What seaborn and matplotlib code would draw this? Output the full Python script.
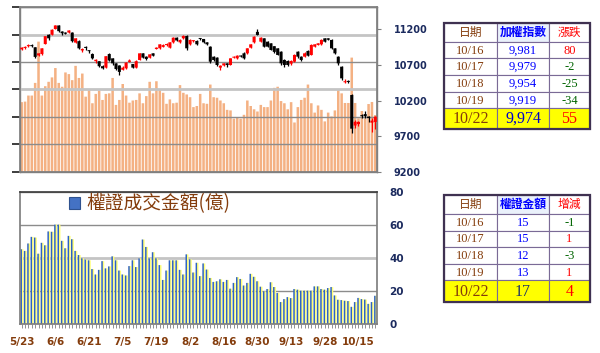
import numpy as np
import pandas as pd
import seaborn as sns
import matplotlib.pyplot as plt
from matplotlib.patches import Patch, Rectangle


# x axis labels (every 10 trading days)
tick_labels = ['5/23', '6/6', '6/21', '7/5', '7/19', '8/2', '8/16', '8/30', '9/13', '9/28', '10/15']

# TAIEX daily candles, 5/23 .. 10/22
idx_open = [10915, 10935, 10960, 10975, 10945, 10830, 10850, 10990, 11120, 11120,
            11200, 11250, 11165, 11150, 11150, 11150, 11010, 11030, 10900, 10950,
            10900, 10850, 10750, 10750, 10680, 10660, 10850, 10790, 10720, 10690,
            10630, 10650, 10740, 10710, 10660, 10767, 10860, 10813, 10799, 10860,
            10921, 10930, 10950, 10975, 10939, 11014, 11079, 11014, 11070, 11103,
            10986, 11030, 11033, 11070, 11061, 11014, 10953, 10813, 10800, 10660,
            10690, 10720, 10697, 10799, 10790, 10827, 10860, 10860, 10939, 11014,
            11160, 11023, 11070, 11023, 11000, 10960, 10930, 10883, 10767, 10753,
            10715, 10743, 10883, 10813, 10813, 10893, 10837, 10953, 10977, 10986,
            11070, 11070, 11047, 10930, 10813, 10673, 10455, 10470, 10277, 9850,
            9870, 9995, 10010, 9975, 9890, 9900]
idx_close = [10940, 10950, 10975, 10960, 10810, 10860, 10930, 11100, 11070, 11190,
             11250, 11170, 11140, 11135, 11180, 11030, 11070, 10930, 10920, 10935,
             10890, 10790, 10770, 10680, 10650, 10820, 10760, 10720, 10640, 10600,
             10660, 10730, 10760, 10660, 10750, 10860, 10800, 10781, 10846, 10827,
             10939, 10986, 10975, 10990, 11014, 11079, 11040, 11047, 11103, 10930,
             11047, 11040, 10986, 11061, 11014, 10986, 10743, 10767, 10697, 10687,
             10720, 10697, 10790, 10813, 10827, 10815, 10790, 10930, 10986, 11093,
             11117, 11079, 10953, 10953, 10907, 10880, 10837, 10720, 10697, 10697,
             10753, 10837, 10813, 10767, 10860, 10827, 10977, 10986, 11000, 11047,
             11023, 11050, 10930, 10860, 10720, 10510, 10470, 10460, 9806, 9902,
             9901, 9981, 9979, 9954, 9919, 9974]
idx_high = [10950, 10960, 10985, 10985, 10950, 10870, 10940, 11105, 11125, 11195,
            11262, 11255, 11170, 11160, 11190, 11155, 11080, 11040, 10930, 10965,
            10905, 10860, 10780, 10755, 10690, 10825, 10870, 10800, 10725, 10700,
            10680, 10740, 10775, 10715, 10760, 10870, 10865, 10820, 10855, 10870,
            10950, 10990, 10985, 10998, 11020, 11085, 11090, 11055, 11110, 11110,
            11055, 11050, 11040, 11080, 11065, 11020, 10960, 10820, 10805, 10695,
            10730, 10728, 10800, 10825, 10835, 10835, 10880, 10940, 10995, 11100,
            11200, 11085, 11080, 11030, 11010, 10965, 10940, 10890, 10775, 10760,
            10765, 10845, 10890, 10820, 10875, 10900, 10985, 10995, 11010, 11055,
            11080, 11078, 11055, 10940, 10820, 10680, 10500, 10480, 10290, 9930,
            9920, 10010, 10053, 9990, 9950, 9990]
idx_low = [10900, 10925, 10950, 10950, 10790, 10820, 10840, 10985, 11040, 11115,
           11195, 11165, 11120, 11130, 11145, 11020, 11000, 10925, 10880, 10910,
           10860, 10785, 10720, 10670, 10645, 10655, 10750, 10700, 10630, 10550,
           10625, 10645, 10735, 10650, 10655, 10760, 10795, 10760, 10790, 10820,
           10915, 10925, 10945, 10965, 10935, 11010, 11035, 11010, 11060, 10910,
           10980, 11020, 10980, 11050, 11005, 10975, 10720, 10750, 10680, 10630,
           10680, 10670, 10690, 10790, 10780, 10805, 10780, 10855, 10930, 11010,
           11110, 11015, 10945, 10945, 10900, 10870, 10830, 10700, 10670, 10680,
           10700, 10735, 10800, 10755, 10805, 10820, 10830, 10945, 10970, 10980,
           11015, 11040, 10920, 10850, 10700, 10490, 10440, 10440, 9740, 9820,
           9840, 9950, 9960, 9900, 9760, 9800]

# market turnover (orange bars, axis not labelled)
turnover = [1270, 1280, 1390, 1390, 1620, 2370, 1390, 1560, 1640, 1720,
            1890, 1620, 1550, 1810, 1780, 1670, 1930, 1710, 1790, 1370,
            1490, 1250, 1420, 1480, 1310, 1420, 1430, 1710, 1220, 1310,
            1600, 1390, 1260, 1300, 1310, 1430, 1250, 1380, 1640, 1430,
            1650, 1490, 1440, 1240, 1320, 1250, 1260, 1580, 1440, 1410,
            1360, 1180, 1200, 1420, 1250, 1240, 1590, 1360, 1350, 1300,
            1250, 1130, 1120, 970, 990, 970, 1040, 1300, 1200, 1140,
            1100, 1220, 1180, 1180, 1300, 1530, 1550, 1290, 1250, 1140,
            1270, 900, 1180, 1310, 1350, 1590, 1250, 1080, 1210, 1130,
            920, 1080, 1010, 1120, 1490, 1430, 1255, 1255, 2080, 1255,
            976, 1109, 976, 1236, 1273, 1036]

# warrant turnover (億)
warrant = [45.3, 44.3, 48.8, 52.8, 52.4, 42.6, 49.2, 47.7, 56.1, 55.9,
           60.2, 60.2, 50.4, 45.9, 53.4, 51.4, 44.3, 41.8, 39.8, 39.0,
           38.6, 33.3, 30.0, 32.8, 38.1, 33.7, 34.9, 41.0, 38.6, 32.4,
           30.0, 29.4, 35.1, 38.6, 34.5, 39.8, 51.2, 46.7, 39.8, 43.5,
           39.8, 35.7, 26.7, 32.4, 38.6, 38.6, 38.6, 32.8, 30.0, 42.2,
           39.2, 31.2, 37.1, 29.0, 36.7, 33.0, 27.9, 25.5, 25.9, 27.1,
           25.5, 26.7, 21.4, 24.9, 28.4, 27.3, 23.3, 24.9, 30.4, 28.6,
           25.9, 22.6, 19.8, 21.2, 25.3, 22.4, 18.8, 13.3, 15.1, 16.3,
           15.7, 21.2, 20.8, 20.2, 20.2, 20.2, 20.2, 22.8, 22.8, 21.2,
           20.8, 21.8, 22.4, 17.3, 14.7, 14.5, 14.1, 13.9, 10.4, 13.3,
           15.8, 15.1, 14.8, 12.2, 13.3, 17.1]

# side tables
tbl_dates = ['10/16', '10/17', '10/18', '10/19', '10/22']
tbl_index = ['9,981', '9,979', '9,954', '9,919', '9,974']
tbl_index_chg = [80, -2, -25, -34, 55]
tbl_warrant = ['15', '15', '12', '13', '17']
tbl_warrant_chg = [-1, 1, -3, 1, 4]


sns.set_theme(style='white')
plt.rcParams['font.family'] = ['DejaVu Sans', 'Noto Sans CJK TC']

BROWN = '#843C0C'
NAVY = '#1B2A5E'
GRID_DARK = '#8C8C8C'
GRID_LIGHT = '#C4C4C4'

df = pd.DataFrame({'day': np.arange(len(idx_close)), 'open': idx_open, 'close': idx_close,
                   'high': idx_high, 'low': idx_low, 'turnover': turnover, 'warrant': warrant})
n = len(df)

fig = plt.figure(figsize=(6, 3.53), dpi=100)

# ---------------- top panel: turnover bars + candles ----------------
ax_v = fig.add_axes([20 / 600, 1 - 172 / 353, 357 / 600, 165 / 353])
sns.barplot(data=df, x='day', y='turnover', native_scale=True, color='#F4B183',
            saturation=1, width=0.75, linewidth=0, errorbar=None, ax=ax_v)
for p in ax_v.patches:
    p.set_snap(False)
ax_v.set_xlim(-0.5, n - 0.5)
ax_v.set_ylim(0, 3000)
ax_v.set_yticks(np.arange(0, 3001, 500))
ax_v.set_yticklabels([])
ax_v.set_xlabel('')
ax_v.set_ylabel('')
ax_v.tick_params(left=False, bottom=False, labelbottom=False)
ax_v.grid(axis='y', color=GRID_DARK, lw=1)
ax_v.set_axisbelow(False)
for val, gl in zip(ax_v.get_yticks(), ax_v.get_ygridlines()):
    if val in (1500, 2500):
        gl.set_color(GRID_LIGHT)
        gl.set_linewidth(2)
for sp in ax_v.spines.values():
    sp.set_color('#808080')
    sp.set_linewidth(1)

ax_i = ax_v.twinx()
up = df['close'] >= df['open']
colors = np.where(up, '#FF0000', '#000000')
body_lo = np.minimum(df['open'], df['close'])
body_h = np.maximum((df['close'] - df['open']).abs(), 14)
ax_i.vlines(df['day'], df['low'], df['high'], colors=colors, lw=0.9, zorder=2)
bodies = ax_i.bar(df['day'], body_h, bottom=body_lo, width=0.9, color=colors, linewidth=0, zorder=3)
for p in bodies:
    p.set_snap(False)
ax_i.set_xlim(-0.5, n - 0.5)
ax_i.set_ylim(9200, 11508)
ax_i.set_yticks(np.arange(9200, 11201, 500))
ax_i.tick_params(axis='y', right=True, length=3, width=0.8, color='#808080', pad=9,
                 labelsize=7, labelcolor=NAVY)
for t in ax_i.get_yticklabels():
    t.set_fontweight('bold')
ax_i.grid(False)
for sp in ax_i.spines.values():
    sp.set_color('#808080')

# ---------------- bottom panel: warrant turnover ----------------
ax_w = fig.add_axes([20 / 600, 1 - 324 / 353, 357 / 600, 132 / 353])
sns.barplot(x=df['day'] + 0.18, y=df['warrant'], native_scale=True, color='#FFFF7A',
            saturation=1, width=0.66, linewidth=0, errorbar=None, ax=ax_w)
sns.barplot(x=df['day'] - 0.14, y=df['warrant'], native_scale=True, color='#2E62C4',
            saturation=1, width=0.44, linewidth=0, errorbar=None, ax=ax_w)
for p in ax_w.patches:
    p.set_snap(False)
ax_w.set_xlim(-0.5, n - 0.5)
ax_w.set_ylim(0, 80)
ax_w.set_yticks(np.arange(0, 81, 20))
ax_w.yaxis.tick_right()
ax_w.tick_params(axis='y', left=False, right=False, length=0, pad=9, labelsize=7.5, labelcolor=NAVY)
for t in ax_w.get_yticklabels():
    t.set_fontweight('bold')
ax_w.set_xticks(df['day'][::10])
ax_w.set_xticklabels(tick_labels)
ax_w.set_xticks(df['day'], minor=True)
ax_w.tick_params(axis='x', which='both', bottom=True, length=3, width=0.6, color='#808080')
ax_w.tick_params(axis='x', which='major', pad=6, labelsize=7.5, labelcolor=BROWN)
for t in ax_w.get_xticklabels():
    t.set_fontweight('bold')
ax_w.set_xlabel('')
ax_w.set_ylabel('')
ax_w.grid(axis='y', color=GRID_DARK, lw=1)
for val, gl in zip(ax_w.get_yticks(), ax_w.get_ygridlines()):
    if val == 40:
        gl.set_color(GRID_LIGHT)
        gl.set_linewidth(2)
for sp in ax_w.spines.values():
    sp.set_color('#808080')
ax_w.spines['top'].set_color('#3F3F3F')

leg = ax_w.legend(handles=[Patch(facecolor='#4472C4', edgecolor='#2F528F', linewidth=0.8)],
                  labels=['權證成交金額(億)'], loc='upper left', bbox_to_anchor=(0.115, 1.045),
                  frameon=False, handlelength=0.6, handleheight=0.6, handletextpad=0.35,
                  borderaxespad=0, prop={'family': 'Noto Sans CJK TC', 'size': 13.5})
for t in leg.get_texts():
    t.set_color(BROWN)

# ---------------- side tables ----------------
ov = fig.add_axes([0, 0, 1, 1])
ov.set_xlim(0, 600)
ov.set_ylim(353, 0)
ov.axis('off')

col_edges = [444, 497, 549, 590]
SERIF = ['Liberation Serif', 'Noto Sans CJK TC']
CJK = ['Noto Sans CJK TC']


def draw_table(row_edges, head_mid, mid_vals, chg_vals, mid_last_color):
    heads = ['日期', head_mid, '漲跌' if head_mid == '加權指數' else '增減']
    head_colors = [BROWN, '#0000FF', '#FF0000']
    for r in range(len(row_edges) - 1):
        y0, y1 = row_edges[r], row_edges[r + 1]
        for c in range(3):
            x0, x1 = col_edges[c], col_edges[c + 1]
            if r == len(row_edges) - 2:
                bg = '#FFFF00'
            elif r == 0 and c == 1:
                bg = '#EAF1FB'
            else:
                bg = 'white'
            ov.add_patch(Rectangle((x0, y0), x1 - x0, y1 - y0, facecolor=bg,
                                   edgecolor='#7A6A96', lw=0.8))
            xc, yc = (x0 + x1) / 2, (y0 + y1) / 2
            if r == 0:
                ov.text(xc, yc, heads[c], ha='center', va='center', fontsize=8.5,
                        color=head_colors[c], family=CJK,
                        fontweight='bold' if c == 1 else 'normal')
                continue
            k = r - 1
            last = k == len(mid_vals) - 1
            size = 11.5 if last else 9
            chg = chg_vals[k]
            vals = [tbl_dates[k], mid_vals[k], str(chg)]
            cols = [BROWN, mid_last_color if last else '#0000FF',
                    '#FF0000' if chg > 0 else '#006400']
            ov.text(xc, yc + 0.5, vals[c], ha='center', va='center', fontsize=size,
                    color=cols[c], family=SERIF)
    ov.add_patch(Rectangle((col_edges[0], row_edges[0]), col_edges[-1] - col_edges[0],
                           row_edges[-1] - row_edges[0], fill=False,
                           edgecolor='#3F3151', lw=1.6))


draw_table([23, 42, 58, 75, 92, 108, 129], '加權指數', tbl_index, tbl_index_chg, '#0000CC')
draw_table([195, 214, 231, 247, 264, 280, 302], '權證金額', tbl_warrant, tbl_warrant_chg, '#203864')

fig.savefig('out.png', dpi=100)
